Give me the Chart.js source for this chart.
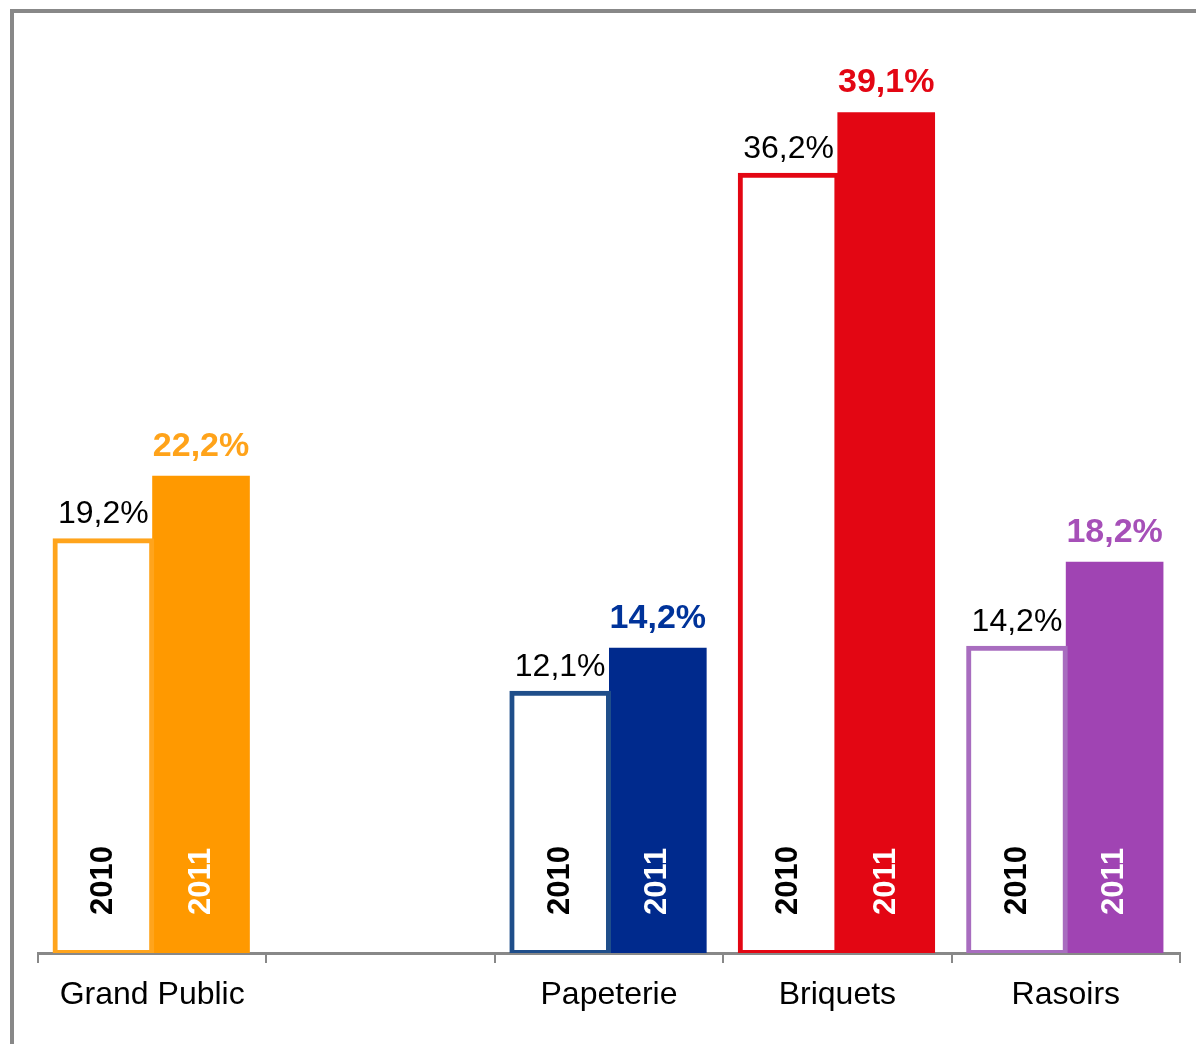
<!DOCTYPE html>
<html>
<head>
<meta charset="utf-8">
<script src="https://cdn.jsdelivr.net/npm/chart.js@4/dist/chart.umd.min.js"></script>
<style>
  html, body { margin: 0; padding: 0; background: #fff; }
  #wrap { position: relative; width: 1196px; height: 1044px; }
</style>
</head>
<body>
<div id="wrap"><canvas id="parts"></canvas></div>
<script>
// market share by business line, 2010 vs 2011 (empty slot keeps the gap after Grand Public)
const categories = ['Grand Public', '', 'Papeterie', 'Briquets', 'Rasoirs'];
const share2010 = [19.2, null, 12.1, 36.2, 14.2];
const share2011 = [22.2, null, 14.2, 39.1, 18.2];
const yearLabels = ['2010', '2011'];

const fill2011   = ['#FF9900', null, '#002A8D', '#E30613', '#A044B3'];
const border2010 = ['#FFA41C', null, '#1F4E8A', '#E30613', '#A86DBF'];
const label2011  = ['#FFA31A', null, '#00339A', '#E30613', '#A650B8'];

const fmt = v => v.toFixed(1).replace('.', ',') + '%';

// grey frame along the top and left edge
const frame = {
  id: 'frame',
  beforeDraw(chart) {
    const ctx = chart.ctx;
    ctx.save();
    ctx.fillStyle = '#888';
    ctx.fillRect(10, 9, chart.width - 10, 4);
    ctx.fillRect(10, 9, 4, chart.height - 9);
    ctx.restore();
  }
};

// value labels above the bars and rotated year labels inside them
const barText = {
  id: 'barText',
  afterDatasetsDraw(chart) {
    const ctx = chart.ctx;
    ctx.save();
    chart.data.datasets.forEach((ds, di) => {
      const meta = chart.getDatasetMeta(di);
      meta.data.forEach((bar, i) => {
        const v = ds.data[i];
        if (v == null) return;
        ctx.textAlign = 'center';
        ctx.textBaseline = 'alphabetic';
        if (di === 0) {
          ctx.font = '32px "Liberation Sans", Arial, sans-serif';
          ctx.fillStyle = '#000';
          ctx.fillText(fmt(v), bar.x, bar.y - 17);
        } else {
          ctx.font = 'bold 34px "Liberation Sans", Arial, sans-serif';
          ctx.fillStyle = label2011[i];
          ctx.fillText(fmt(v), bar.x, bar.y - 20);
        }
        ctx.save();
        ctx.translate(bar.x, bar.base - 38);
        ctx.rotate(-Math.PI / 2);
        ctx.font = 'bold 31px "Liberation Sans", Arial, sans-serif';
        ctx.fillStyle = di === 0 ? '#000' : '#fff';
        ctx.textAlign = 'left';
        ctx.textBaseline = 'middle';
        ctx.fillText(yearLabels[di], 0, 0);
        ctx.restore();
      });
    });
    ctx.restore();
  }
};

new Chart(document.getElementById('parts'), {
  type: 'bar',
  data: {
    labels: categories,
    datasets: [
      {
        label: yearLabels[0],
        data: share2010,
        backgroundColor: '#fff',
        borderColor: border2010,
        borderWidth: 5,
        borderSkipped: false,
        inflateAmount: 2,
        categoryPercentage: 0.855,
        barPercentage: 1
      },
      {
        label: yearLabels[1],
        data: share2011,
        backgroundColor: fill2011,
        borderWidth: 0,
        inflateAmount: 0,
        categoryPercentage: 0.855,
        barPercentage: 1
      }
    ]
  },
  options: {
    responsive: true,
    maintainAspectRatio: false,
    animation: false,
    layout: { padding: { left: 38, right: 16, top: 50, bottom: 0 } },
    plugins: {
      legend: { display: false },
      tooltip: { enabled: false }
    },
    scales: {
      x: {
        z: 1,
        afterFit: scale => { scale.height = 91; },
        grid: {
          offset: true,
          drawOnChartArea: false,
          drawTicks: true,
          tickLength: 10,
          color: '#888',
          lineWidth: 2
        },
        border: { display: true, color: '#888', width: 3 },
        ticks: {
          padding: 13,
          color: '#000',
          font: { size: 32, family: '"Liberation Sans", Arial, sans-serif' },
          maxRotation: 0,
          autoSkip: false
        }
      },
      y: {
        display: false,
        min: 0,
        max: 42
      }
    }
  },
  plugins: [frame, barText]
});
</script>
</body>
</html>
